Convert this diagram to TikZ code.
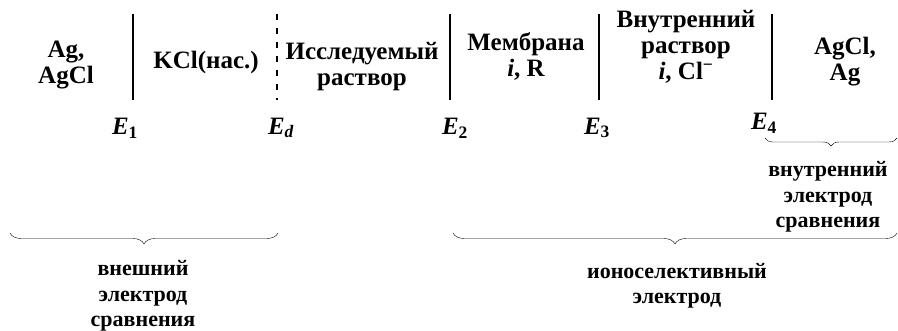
\documentclass[tikz,border=0pt]{standalone}
\usepackage{fontspec}
\setmainfont{Liberation Serif}
\usetikzlibrary{decorations.pathreplacing}

\tikzset{
    cell/.style={align=center, font=\fontsize{25}{26}\selectfont\bfseries, inner sep=0pt},
    pot/.style={font=\fontsize{25}{26}\selectfont\bfseries\itshape, inner sep=0pt},
    note/.style={align=center, font=\fontsize{22}{25.5}\selectfont\bfseries, inner sep=0pt},
    wall/.style={line width=1.8pt},
    junction/.style={line width=1.5pt, dash pattern=on 6pt off 8pt},
    bracedown/.style={thin, decorate, decoration={brace, mirror, amplitude=#1}}
}

\begin{document}
\begin{tikzpicture}[x=1pt, y=-1pt]

        \useasboundingbox (0,0) rectangle (898,331);

        % ==================== 电池各相 ====================
        \node[cell] (ag) at (66,65) {Ag,\\AgCl};
        \node[cell] (kcl) at (206,62) {KCl(нас.)};
        \node[cell] (sol) at (362,67) {Исследуемый\\раствор};
        \node[cell] (mem) at (526,56) {Мембрана\\\textit{i}, R};
        \node[cell] (inner) at (686,47) {Внутренний\\раствор\\\textit{i}, Cl\textsuperscript{−}};
        \node[cell] (agr) at (845,62) {AgCl,\\Ag};

        % ==================== 相界 ====================
        \coordinate (b1) at (133,14);  \coordinate (b1e) at (133,100);
        \coordinate (bd) at (277,14);  \coordinate (bde) at (277,100);
        \coordinate (b2) at (450,14);  \coordinate (b2e) at (450,100);
        \coordinate (b3) at (599,14);  \coordinate (b3e) at (599,100);
        \coordinate (b4) at (772,14);  \coordinate (b4e) at (772,100);

        \draw[wall] (b1) -- (b1e);
        \draw[junction] (bd) -- (bde);
        \draw[wall] (b2) -- (b2e);
        \draw[wall] (b3) -- (b3e);
        \draw[wall] (b4) -- (b4e);

        % 界面电位
        \node[pot] (e1) at (125,128) {E\textsubscript{\upshape 1}};
        \node[pot] (ed) at (281,128) {E\textsubscript{d}};
        \node[pot] (e2) at (455,128) {E\textsubscript{\upshape 2}};
        \node[pot] (e3) at (597,128) {E\textsubscript{\upshape 3}};
        \node[pot] (e4) at (764,123) {E\textsubscript{\upshape 4}};

        % ==================== 电极 ====================
        \coordinate (outl) at (10,233);  \coordinate (outr) at (278,233);
        \draw[bracedown=11pt] (outl) -- (outr);
        \node[note] (outer) at (143,296) {внешний\\электрод\\сравнения};

        \coordinate (isel) at (453,233);  \coordinate (iser) at (897,233);
        \draw[bracedown=11pt] (isel) -- (iser);
        \node[note] (ise) at (677,286) {ионоселективный\\электрод};

        \coordinate (refl) at (765,138);  \coordinate (refr) at (897,138);
        \draw[bracedown=8pt] (refl) -- (refr);
        \node[note] (inref) at (828,197) {внутренний\\электрод\\сравнения};

    \end{tikzpicture}
\end{document}
